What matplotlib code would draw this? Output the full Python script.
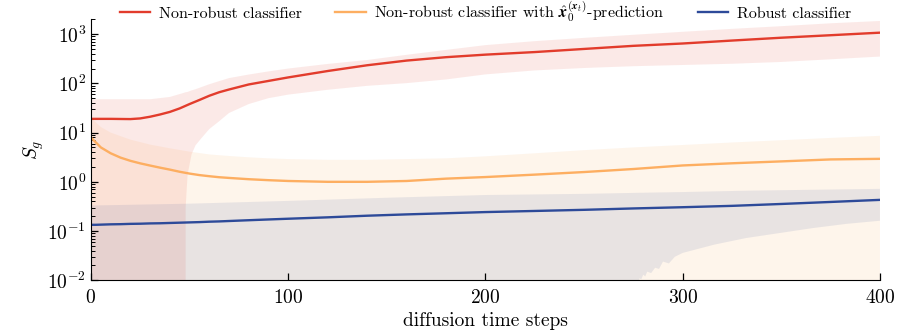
import matplotlib
matplotlib.use("Agg")
import matplotlib.pyplot as plt
import numpy as np
from matplotlib.ticker import LogLocator, NullFormatter

plt.rcParams["font.family"] = "serif"
plt.rcParams["font.serif"] = ["cmr10", "DejaVu Serif"]
plt.rcParams["mathtext.fontset"] = "cm"
plt.rcParams["axes.formatter.use_mathtext"] = True

# diffusion time steps where the mean curves were sampled
steps = [0, 2.5, 5, 10, 15, 20, 25, 30, 35, 40, 45, 50, 55, 60, 65, 70, 80,
         90, 100, 120, 140, 160, 180, 200, 225, 250, 275, 300, 325, 350, 375,
         400]

red_mean = [19.0, 19.0, 19.0, 19.0, 18.9, 18.8, 19.4, 21.0, 23.3, 26.3, 31,
            38, 46, 56, 66, 75, 95, 112, 132, 178, 233, 290, 340, 383, 432,
            500, 578, 645, 740, 845, 950, 1070]
orange_mean = [7.9, 6.3, 5.0, 3.8, 3.1, 2.67, 2.37, 2.14, 1.94, 1.77, 1.6,
               1.47, 1.37, 1.3, 1.24, 1.2, 1.13, 1.08, 1.04, 1.0, 1.0, 1.04,
               1.16, 1.25, 1.4, 1.58, 1.82, 2.15, 2.38, 2.6, 2.85, 2.93]
blue_mean = [0.134, 0.134, 0.135, 0.137, 0.138, 0.140, 0.141, 0.143, 0.144,
             0.146, 0.148, 0.150, 0.152, 0.155, 0.157, 0.160, 0.166, 0.172,
             0.178, 0.19, 0.205, 0.218, 0.23, 0.243, 0.256, 0.27, 0.288,
             0.305, 0.325, 0.355, 0.39, 0.43]

# spread bands (values below 1e-2 fall off the bottom of the axis)
red_band_steps = [0, 10, 20, 30, 40, 47, 48, 49, 51, 53, 56, 60, 65, 70, 80,
                  90, 100, 120, 140, 160, 180, 200, 225, 250, 275, 300, 325,
                  350, 375, 400]
red_hi = [47.6, 47.6, 47.6, 47.6, 53, 64, 66, 67, 72, 76, 84, 96, 111, 128,
          151, 175, 200, 248, 298, 380, 478, 598, 720, 840, 970, 1115, 1280,
          1450, 1660, 1850]
red_lo = [0, 0, 0, 0, 0, 0, 0.3, 1.4, 3.6, 5.5, 7.7, 11.8, 17, 25, 38, 50,
          59, 74, 89, 101, 120, 152, 183, 205, 223, 236, 250, 272, 308, 350]

orange_band_steps = [0, 5, 10, 20, 30, 40, 50, 60, 70, 80, 90, 100, 120, 140,
                     160, 180, 200, 225, 250, 275, 300, 325, 350, 375, 400]
orange_hi = [20, 13, 10, 7.2, 5.7, 4.8, 4.1, 3.6, 3.35, 3.15, 3.0, 2.9, 2.8,
             2.8, 2.9, 3.0, 3.3, 3.8, 4.4, 5.0, 5.6, 6.3, 7.0, 7.8, 8.6]
orange_lo = [0] * len(orange_band_steps)

blue_band_steps = [0, 50, 100, 150, 200, 250, 276, 278, 279, 280, 281, 282,
                   284, 286, 288, 290, 293, 296, 300, 316, 332, 349, 366, 383,
                   400]
blue_hi = [0.33, 0.36, 0.41, 0.475, 0.54, 0.57, 0.597, 0.6, 0.6, 0.6, 0.602,
           0.603, 0.605, 0.607, 0.609, 0.61, 0.613, 0.616, 0.62, 0.64, 0.66,
           0.675, 0.69, 0.705, 0.72]
blue_lo = [0, 0, 0, 0, 0, 0, 0, 0.011, 0.0105, 0.013, 0.012, 0.015, 0.014,
           0.018, 0.017, 0.024, 0.022, 0.03, 0.036, 0.053, 0.072, 0.091, 0.115,
           0.14, 0.162]

labels = [
    "Non-robust classifier",
    r"Non-robust classifier with $\hat{\mathbfit{x}}_0^{(\mathbfit{x}_t)}$-prediction",
    "Robust classifier",
]
colors = ["#e23c2c", "#fdae61", "#2d4a99"]

fig = plt.figure(figsize=(8.97, 3.35), dpi=100)
ax = fig.add_axes([0.1014, 0.1633, 0.8796, 0.7791])

ax.fill_between(red_band_steps, red_lo, red_hi, color=colors[0], alpha=0.11, lw=0)
ax.fill_between(orange_band_steps, orange_lo, orange_hi, color=colors[1],
                alpha=0.12, lw=0)
ax.fill_between(blue_band_steps, blue_lo, blue_hi, color=colors[2], alpha=0.1, lw=0)

for vals, c, lab in zip([red_mean, orange_mean, blue_mean], colors, labels):
    ax.plot(steps, vals, color=c, lw=1.7, label=lab)

ax.set_yscale("log")
ax.set_ylim(1e-2, 2000)
ax.set_xlim(0, 400)
ax.set_xticks([0, 100, 200, 300, 400])
ax.yaxis.set_major_locator(LogLocator(base=10, numticks=10))
ax.yaxis.set_minor_locator(LogLocator(base=10, subs=np.arange(2, 10), numticks=20))
ax.yaxis.set_minor_formatter(NullFormatter())

for side in ("top", "right"):
    ax.spines[side].set_visible(False)
ax.tick_params(which="major", direction="in", length=5, width=0.9, labelsize=14)
ax.tick_params(which="minor", direction="in", length=3, width=0.7)
ax.tick_params(axis="x", pad=6)

ax.set_xlabel("diffusion time steps", fontsize=14, labelpad=4)
ax.set_ylabel(r"$S_g$", fontsize=14, labelpad=1)

ax.legend(loc="center", bbox_to_anchor=(0.5, 1.03), ncol=3, frameon=False,
          fontsize=11.5, handlelength=1.9, handletextpad=0.55,
          columnspacing=2.1, borderpad=0)

fig.savefig("out.png", dpi=100)
